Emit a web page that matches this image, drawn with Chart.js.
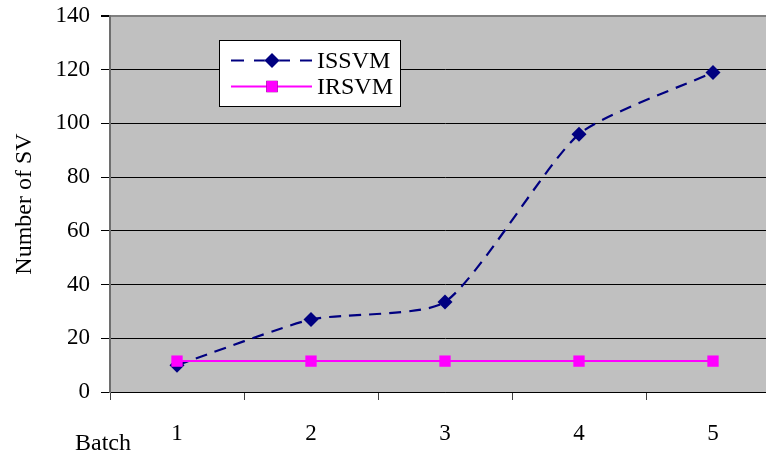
<!DOCTYPE html>
<html>
<head>
<meta charset="utf-8">
<script src="https://cdn.jsdelivr.net/npm/chart.js@4/dist/chart.umd.min.js"></script>
<style>
  html, body { margin: 0; padding: 0; background: #fff; overflow: hidden; }
  #wrap { position: absolute; left: 0; top: 0; width: 788px; height: 458px; }
</style>
</head>
<body>
<div id="wrap"><canvas id="c" width="788" height="458"></canvas></div>
<script>
// Batches on the x axis and support-vector counts per method
const batches = ['1', '2', '3', '4', '5'];
const issvm = [10, 27, 33.5, 96, 119];
const irsvm = [11.5, 11.5, 11.5, 11.5, 11.5];
const yTicks = [0, 20, 40, 60, 80, 100, 120, 140];
const seriesNames = ['ISSVM', 'IRSVM'];
const xTitle = 'Batch';
const yTitle = 'Number of SV';

const SERIF = '"Liberation Serif", "Times New Roman", serif';

// Grey plot area
const plotBackground = {
  id: 'plotBackground',
  beforeDraw(chart) {
    const { ctx, chartArea: a } = chart;
    ctx.save();
    ctx.fillStyle = '#C0C0C0';
    ctx.fillRect(a.left, a.top, a.right - a.left, a.bottom - a.top);
    ctx.restore();
  }
};

// "Batch" caption at the lower left, beside the category labels
const batchCaption = {
  id: 'batchCaption',
  afterDraw(chart) {
    const { ctx, chartArea: a } = chart;
    ctx.save();
    ctx.font = '24px ' + SERIF;
    ctx.fillStyle = '#000';
    ctx.textAlign = 'left';
    ctx.textBaseline = 'alphabetic';
    ctx.fillText(xTitle, a.left - 35, a.bottom + 58);
    ctx.restore();
  }
};

// Boxed legend inside the plot area
const boxLegend = {
  id: 'boxLegend',
  afterDatasetsDraw(chart) {
    const { ctx } = chart;
    const bx = 219.5, by = 40.5, bw = 181, bh = 66;
    ctx.save();
    ctx.fillStyle = '#fff';
    ctx.fillRect(bx, by, bw, bh);
    ctx.strokeStyle = '#000';
    ctx.lineWidth = 1;
    ctx.strokeRect(bx, by, bw, bh);
    const rows = [by + 20, by + 46];
    chart.data.datasets.forEach((ds, i) => {
      const y = rows[i];
      ctx.beginPath();
      ctx.strokeStyle = ds.borderColor;
      ctx.lineWidth = ds.borderWidth;
      ctx.setLineDash(ds.borderDash ? [13, 10] : []);
      ctx.moveTo(231, y);
      ctx.lineTo(312, y);
      ctx.stroke();
      ctx.setLineDash([]);
      Chart.helpers.drawPoint(ctx, {
        pointStyle: ds.pointStyle,
        radius: ds.pointRadius,
        rotation: 0,
        borderWidth: 0
      }, 272, y);
      ctx.fillStyle = ds.pointBackgroundColor;
      ctx.fill();
      ctx.fillStyle = '#000';
      ctx.font = '24px ' + SERIF;
      ctx.textBaseline = 'middle';
      ctx.textAlign = 'left';
      ctx.fillText(ds.label, 317, y + 1);
    });
    ctx.restore();
  }
};

new Chart(document.getElementById('c'), {
  type: 'line',
  data: {
    labels: batches,
    datasets: [
      {
        label: seriesNames[0],
        data: issvm,
        order: 1,
        borderColor: '#000080',
        backgroundColor: '#000080',
        pointBackgroundColor: '#000080',
        pointBorderColor: '#000080',
        borderWidth: 2.2,
        borderDash: [12, 8],
        pointStyle: 'rectRot',
        pointRadius: 7.5,
        pointBorderWidth: 0,
        tension: 0.2,
        fill: false
      },
      {
        label: seriesNames[1],
        data: irsvm,
        order: 0,
        borderColor: '#FF00FF',
        backgroundColor: '#FF00FF',
        pointBackgroundColor: '#FF00FF',
        pointBorderColor: '#FF00FF',
        borderWidth: 2,
        pointStyle: 'rect',
        pointRadius: 8,
        pointBorderWidth: 0,
        tension: 0,
        fill: false
      }
    ]
  },
  options: {
    responsive: false,
    animation: false,
    events: [],
    layout: { padding: { top: 16, right: 2, left: 0, bottom: 0 } },
    plugins: {
      legend: { display: false },
      tooltip: { enabled: false }
    },
    scales: {
      x: {
        type: 'category',
        offset: true,
        afterFit(scale) { scale.height = 66; },
        grid: {
          offset: true,
          drawOnChartArea: false,
          drawTicks: true,
          tickLength: 8,
          color: '#404040',
          lineWidth: 1
        },
        border: { display: true, color: '#000', width: 1 },
        ticks: {
          color: '#000',
          font: { family: SERIF, size: 23 },
          padding: 20,
          maxRotation: 0,
          autoSkip: false
        }
      },
      y: {
        min: 0,
        max: 140,
        afterFit(scale) {
          scale.width = 110;
          scale.paddingTop = 0;
          scale.paddingBottom = 0;
        },
        afterBuildTicks(scale) { scale.ticks = yTicks.map(v => ({ value: v })); },
        grid: {
          color: ctx => (ctx.tick && ctx.tick.value === 140 ? '#808080' : '#000'),
          lineWidth: ctx => (ctx.tick && ctx.tick.value === 140 ? 2 : 1),
          tickColor: '#000',
          tickLength: 9,
          drawTicks: true
        },
        border: { display: true, color: '#6e6e6e', width: 2 },
        ticks: {
          color: '#000',
          font: { family: SERIF, size: 23 },
          padding: 11
        },
        title: {
          display: true,
          text: yTitle,
          color: '#000',
          font: { family: SERIF, size: 24 },
          padding: { top: 10, bottom: 0 }
        }
      }
    }
  },
  plugins: [plotBackground, boxLegend, batchCaption]
});
</script>
</body>
</html>
